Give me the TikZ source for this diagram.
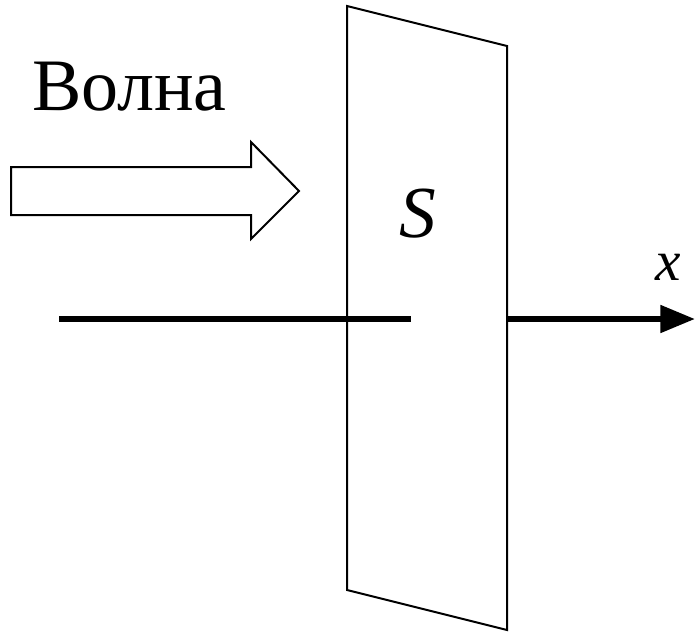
\documentclass[tikz,border=0pt]{standalone}
\usepackage{fontspec}
\setmainfont{Liberation Serif}
\usetikzlibrary{arrows.meta}
\tikzset{
  thinline/.style={line width=1.5pt, line join=miter},
  axisline/.style={line width=4.5pt},
  lbl/.style={inner sep=0pt, outer sep=0pt}
}
\begin{document}
\begin{tikzpicture}[x=0.75pt, y=-0.75pt]
\useasboundingbox (0,0) rectangle (695,631);
% plate
\draw[thinline] (347,6) -- (507,46) -- (507,630) -- (347,590) -- cycle;
% block arrow (wave)
\draw[thinline] (11,167) -- (251,167) -- (251,142) -- (299,191) -- (251,239) -- (251,215) -- (11,215) -- cycle;
% axis
\coordinate (a0) at (59,319);
\coordinate (a1) at (411,319);
\coordinate (a2) at (507,319);
\coordinate (a3) at (695,319);
\draw[axisline] (a0) -- (a1);
\draw[axisline, -{Triangle[length=26pt, width=20pt]}] (a2) -- (a3);
% labels
\node[lbl, anchor=base west, font=\fontsize{55.5}{60}\selectfont] (wave) at (32,111) {Волна};
\node[lbl, anchor=base west, font=\fontsize{55}{58}\selectfont\itshape] (s) at (399,237) {S};
\node[lbl, anchor=base west, font=\fontsize{43}{46}\selectfont\itshape] (x) at (655,280) {x};
\end{tikzpicture}
\end{document}
